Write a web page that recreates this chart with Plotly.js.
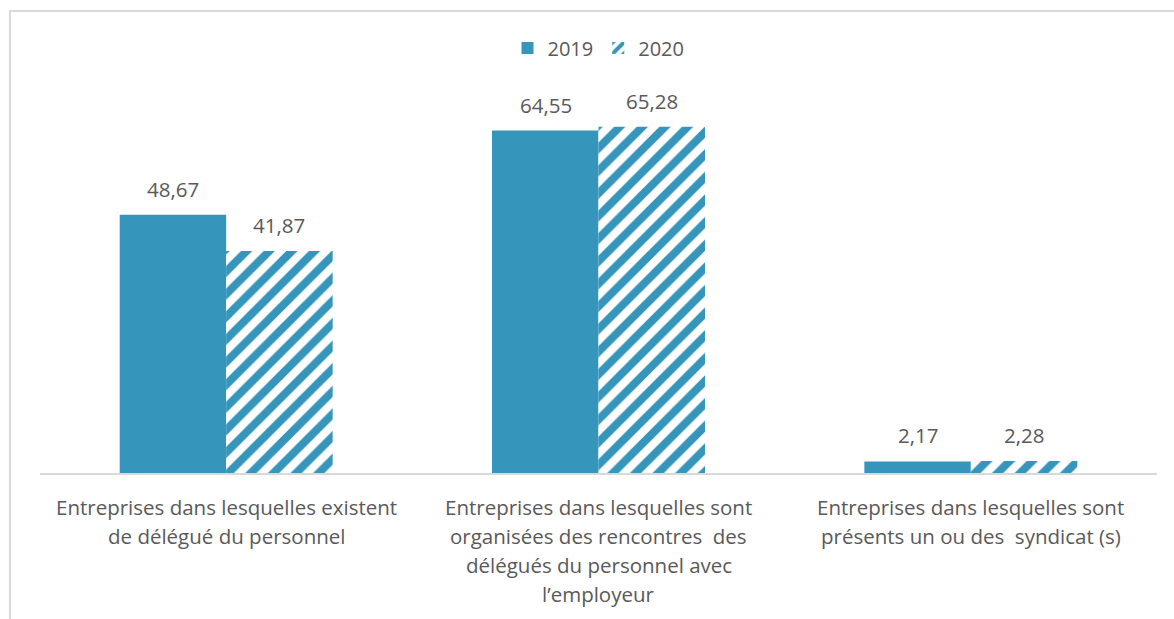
<!DOCTYPE html>
<html>
<head>
<meta charset="utf-8">
<script src="https://cdn.plot.ly/plotly-3.0.1.min.js"></script>
<style>html,body{margin:0;padding:0;background:#fff;}#chart{width:1174px;height:619px;}</style>
</head>
<body>
<div id="chart"></div>
<script>
const categories = [
  "Entreprises dans lesquelles existent<br>de délégué du personnel",
  "Entreprises dans lesquelles sont<br>organisées des rencontres  des<br>délégués du personnel avec<br>l’employeur",
  "Entreprises dans lesquelles sont<br>présents un ou des  syndicat (s)"
];
const seriesNames = ["2019", "2020"];
const values2019 = [48.67, 64.55, 2.17];
const values2020 = [41.87, 65.28, 2.28];

const blue = "#3595BB";
const txt = "#595959";
const fontFam = "'Open Sans', 'Noto Sans', sans-serif";

const ids = categories.map((c, i) => "c" + i);

const traces = [
  {type: "bar", name: seriesNames[0], x: ids, y: values2019,
   marker: {color: blue, line: {width: 0}}, hoverinfo: "none"},
  {type: "bar", name: seriesNames[1], x: ids, y: values2020,
   marker: {color: blue, line: {width: 0},
            pattern: {shape: "/", fgcolor: blue, bgcolor: "#ffffff", size: 16, solidity: 0.5, fillmode: "replace"}},
   hoverinfo: "none"}
];

const fmt = v => v.toFixed(2).replace(".", ",");
const annotations = [];
[values2019, values2020].forEach((vals, s) => {
  vals.forEach((v, i) => {
    annotations.push({x: ids[i], y: v, xref: "x", yref: "y", text: fmt(v), showarrow: false,
      xshift: s === 0 ? -53 : 53, yanchor: "bottom", yshift: 10,
      font: {family: fontFam, size: 20.5, color: txt}});
  });
});
categories.forEach((c, i) => {
  c.split("<br>").forEach((line, k) => {
    annotations.push({x: ids[i], y: 0, xref: "x", yref: "paper", text: line, showarrow: false,
      yanchor: "middle", yshift: -34 - 29 * k,
      font: {family: fontFam, size: 20.5, color: txt}});
  });
});

const layout = {
  width: 1174, height: 619,
  margin: {l: 40, r: 17, t: 73, b: 146},
  paper_bgcolor: "#ffffff", plot_bgcolor: "#ffffff",
  barmode: "group", bargap: 0.428, bargroupgap: 0,
  showlegend: true,
  legend: {orientation: "h", x: 0.5, xanchor: "center", y: 1.0625, yanchor: "middle",
           font: {family: fontFam, size: 20, color: txt}, itemwidth: 30, traceorder: "normal"},
  xaxis: {type: "category", showticklabels: false, showline: true, linecolor: "#d9d9d9", linewidth: 1.5,
          ticks: "", showgrid: false, zeroline: false, fixedrange: true},
  yaxis: {range: [0, 75.4], visible: false, showgrid: false, zeroline: false, fixedrange: true},
  annotations: annotations,
  shapes: [
    {type: "rect", xref: "paper", yref: "paper", x0: -0.0269, x1: 1.2, y0: -0.6, y1: 1.155,
     line: {color: "#d9d9d9", width: 2}, fillcolor: "rgba(0,0,0,0)", layer: "below"}
  ]
};

Plotly.newPlot("chart", traces, layout, {displayModeBar: false, staticPlot: true});
</script>
</body>
</html>
